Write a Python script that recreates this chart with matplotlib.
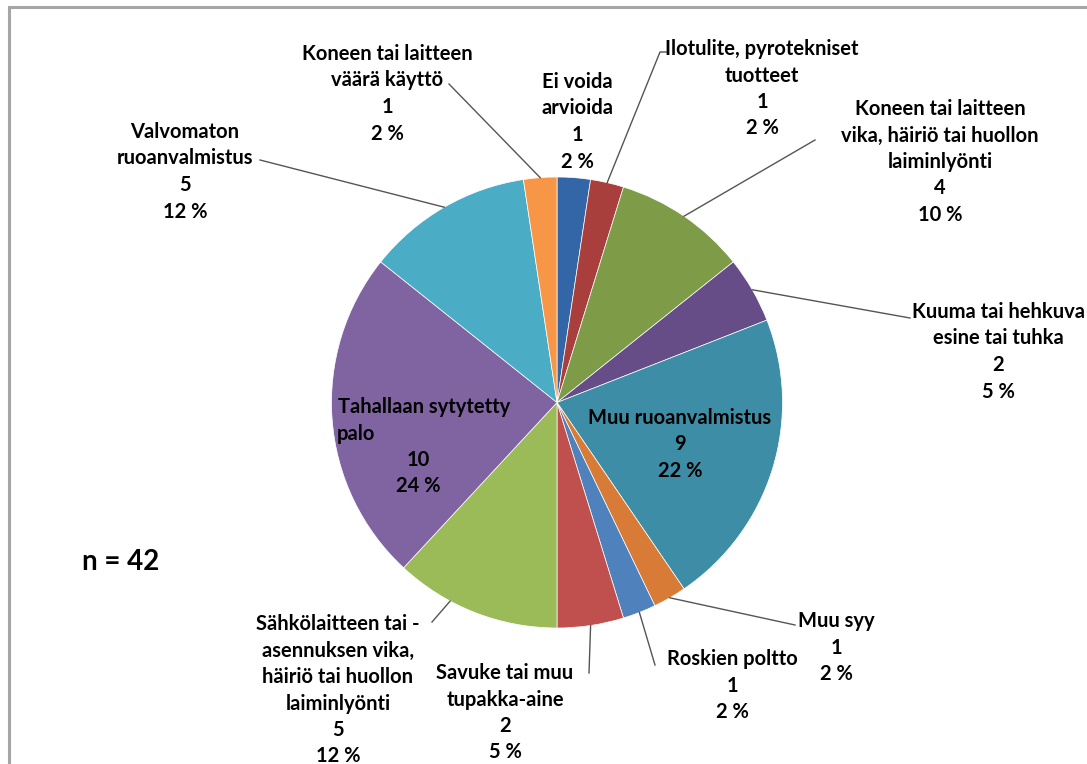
import numpy as np
import matplotlib
matplotlib.use("Agg")
import matplotlib.pyplot as plt
from matplotlib.patches import Rectangle

# Palosyyt, n = 42 (myötäpäivään klo 12:sta alkaen)
names = [
    "Ei voida\narvioida",
    "Ilotulite, pyrotekniset\ntuotteet",
    "Koneen tai laitteen\nvika, häiriö tai huollon\nlaiminlyönti",
    "Kuuma tai hehkuva\nesine tai tuhka",
    "Muu ruoanvalmistus",
    "Muu syy",
    "Roskien poltto",
    "Savuke tai muu\ntupakka-aine",
    "Sähkölaitteen tai -\nasennuksen vika,\nhäiriö tai huollon\nlaiminlyönti",
    "Tahallaan sytytetty\npalo",
    "Valvomaton\nruoanvalmistus",
    "Koneen tai laitteen\nväärä käyttö",
]
counts = [1, 1, 4, 2, 9, 1, 1, 2, 5, 10, 5, 1]
colors = ["#3366a6", "#a83f3c", "#7e9b48", "#664d88", "#3c8da5", "#d77b36",
          "#4f81bd", "#c0504d", "#9bbb59", "#8064a2", "#4bacc6", "#f79646"]

W, H = 1087, 764
CX, CY, R = 557, 402.5, 225.5

# label centre (x, y of first line) in pixels, leader end on label side,
# and where along the wedge the leader touches the rim (0..1)
label_pos = [(577, 80), (762, 47), (940, 107), (998, 310), (680, 416),
             (836, 619), (732, 657), (505, 671), (338, 622), (424, 405),
             (185, 130), (387, 52)]
leader_end = [None, [(660, 52), (666, 52)], [(815, 140)], [(910, 318)], None,
              [(795, 625)], [(655, 665)], [(589, 673)], [(432, 622)], None,
              [(260, 160)], [(449, 84)]]
leader_frac = [0.5, 0.5, 0.5, 0.5, 0.5, 0.5, 0.5, 0.5, 0.66, 0.5, 0.5, 0.5]

FONT = "Lato"
FS = 14.5
LS = 1.48
STEP = 26.5

n = sum(counts)

# whole percentages that add up to 100 (largest remainder)
raw = np.array(counts) / n * 100
pcts = np.floor(raw).astype(int)
for k in np.argsort(-(raw - pcts))[:100 - pcts.sum()]:
    pcts[k] += 1

fig = plt.figure(figsize=(W / 100, H / 100), dpi=100)
ax = fig.add_axes([0, 0, 1, 1])


def Y(y):
    return H - y


# outer frame, runs off the right and bottom edge
ax.add_patch(Rectangle((9, -20), W + 40, Y(7) + 20, fill=False,
                       edgecolor="#a6a6a6", lw=2.2))

wedges, _ = ax.pie(counts, colors=colors, startangle=90, counterclock=False,
                   center=(CX, Y(CY)), radius=R, frame=True,
                   wedgeprops=dict(edgecolor="white", linewidth=0.5))
ax.set_xlim(0, W)
ax.set_ylim(0, H)
ax.set_aspect("equal")
ax.axis("off")

# leader lines
cum = np.cumsum([0] + counts)
for i, pts in enumerate(leader_end):
    if pts is None:
        continue
    a = (cum[i] + leader_frac[i] * counts[i]) / n * 2 * np.pi
    px, py = CX + R * np.sin(a), CY - R * np.cos(a)
    xs = [px] + [p[0] for p in pts]
    ys = [Y(py)] + [Y(p[1]) for p in pts]
    ax.plot(xs, ys, color="#555555", lw=1.0)

txt = dict(fontsize=FS, fontweight="bold", family=FONT)

# data labels, one text line at a time
for i, (name, v) in enumerate(zip(names, counts)):
    x, y = label_pos[i]
    lines = name.split("\n") + [str(v), f"{pcts[i]} %"]
    for j, line in enumerate(lines):
        lx, ha = x, "center"
        if i == 9:
            # wrapped label inside the wedge
            if j == 1:
                lx, ha = 337, "left"
            elif j >= 2:
                lx = 418
        ax.text(lx, Y(y + j * STEP), line, ha=ha, va="center_baseline", **txt)

ax.text(82, Y(560), f"n = {n}", ha="left", va="center_baseline",
        fontsize=20, fontweight="bold", family=FONT)

fig.savefig("out.png", dpi=100)
